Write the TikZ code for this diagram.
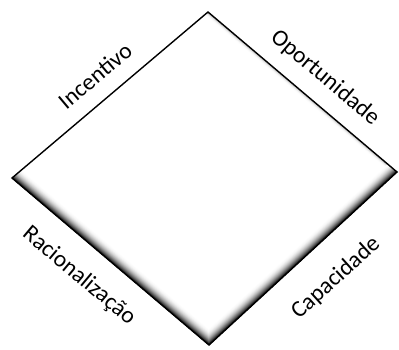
\documentclass[tikz,border=0pt]{standalone}
\usepackage{fontspec}
\setmainfont{Carlito}
\usetikzlibrary{calc}
\tikzset{
  lbl/.style={font=\fontsize{23.5}{28}\selectfont, inner sep=0pt, anchor=center},
  edge/.style={line width=1.4pt, black, line join=miter}
}
\begin{document}
\begin{tikzpicture}[x=1pt,y=-1pt]
\useasboundingbox (0,0) rectangle (399,350);
\coordinate (T) at (208,12);
\coordinate (R) at (397,172);
\coordinate (B) at (209,345);
\coordinate (L) at (12,178);
\fill[white] (T)--(R)--(B)--(L)--cycle;
\begin{scope}
  \clip (T)--(R)--(B)--(L)--cycle;
  \foreach \i in {0,...,11} {
    \pgfmathsetmacro\d{4-\i*0.33}
    \pgfmathsetmacro\k{35*(1-\d/4)^2}
    \draw[line width=2*\d pt, black!\k] ($(T)!-0.1!(R)$) -- ($(R)!-0.1!(T)$);
  }
  \foreach \i in {0,...,47} {
    \pgfmathsetmacro\d{12-\i*0.25}
    \pgfmathsetmacro\k{100*(1-\d/12)^2}
    \draw[line width=2*\d pt, black!\k] ($(L)!-0.1!(B)$) -- (B) -- ($(R)!-0.1!(B)$);
  }
\end{scope}
\draw[edge] (T)--(R)--(B)--(L)--cycle;
\node[lbl, rotate=40] (inc) at (95,76) {Incentivo};
\node[lbl, rotate=-40] (opo) at (325,78) {Oportunidade};
\node[lbl, rotate=-40] (rac) at (79,276) {Racionalização};
\node[lbl, rotate=42] (cap) at (336,278) {Capacidade};
\end{tikzpicture}
\end{document}
